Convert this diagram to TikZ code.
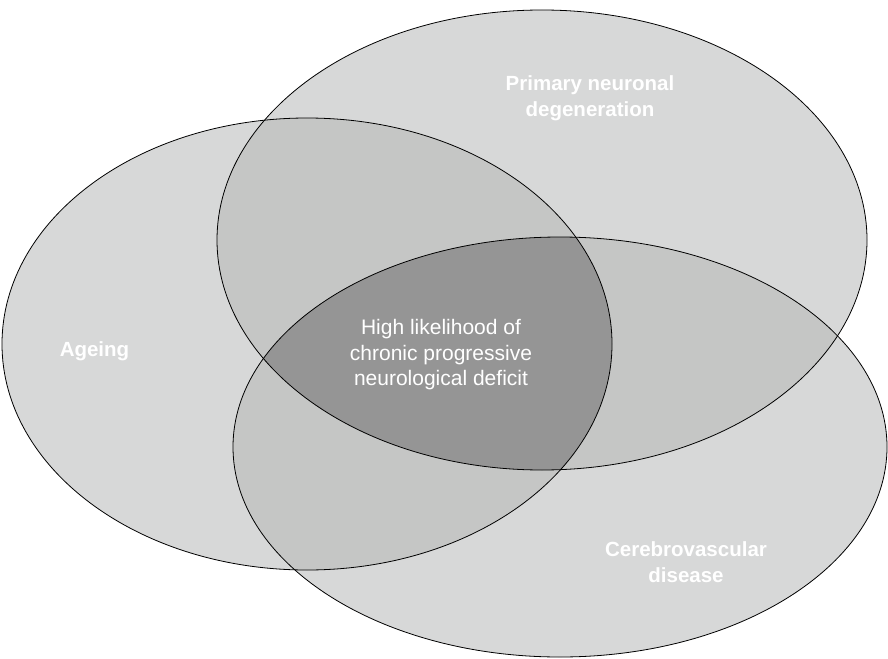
\documentclass[tikz,border=0pt]{standalone}
\usepackage{fontspec}
\setmainfont{Liberation Sans}
\begin{document}
\begin{tikzpicture}[x=1pt,y=-1pt,
  setlabel/.style={text=white,font=\bfseries\fontsize{20.5}{26}\selectfont,align=center},
  corelabel/.style={text=white,font=\fontsize{21}{25.5}\selectfont,align=center},
  outline/.style={draw=black,line width=0.8pt}]
\definecolor{oneset}{HTML}{D7D8D8}
\definecolor{twosets}{HTML}{C5C6C5}
\definecolor{threesets}{HTML}{959595}
\useasboundingbox (0,0) rectangle (888,658);
% the three sets
\def\setA{(307,344) ellipse [x radius=305,y radius=226]}
\def\setB{(542,240) ellipse [x radius=325,y radius=230]}
\def\setC{(560,447) ellipse [x radius=327,y radius=210]}
\fill[oneset] \setA;
\fill[oneset] \setB;
\fill[oneset] \setC;
% pairwise overlaps
\begin{scope}\clip \setA; \fill[twosets] \setB; \fill[twosets] \setC; \end{scope}
\begin{scope}\clip \setB; \fill[twosets] \setC; \end{scope}
% common core
\begin{scope}\clip \setA; \clip \setB; \fill[threesets] \setC; \end{scope}
\draw[outline] \setA;
\draw[outline] \setB;
\draw[outline] \setC;
% labels
\node[setlabel] (ageing) at (94.5,351) {Ageing};
\node[setlabel] (neuro) at (590,98.5) {Primary neuronal\\degeneration};
\node[setlabel] (vasc) at (686,562) {Cerebrovascular\\disease};
\node[corelabel] (core) at (441,355) {High likelihood of\\chronic progressive\\neurological deficit};
\end{tikzpicture}
\end{document}
